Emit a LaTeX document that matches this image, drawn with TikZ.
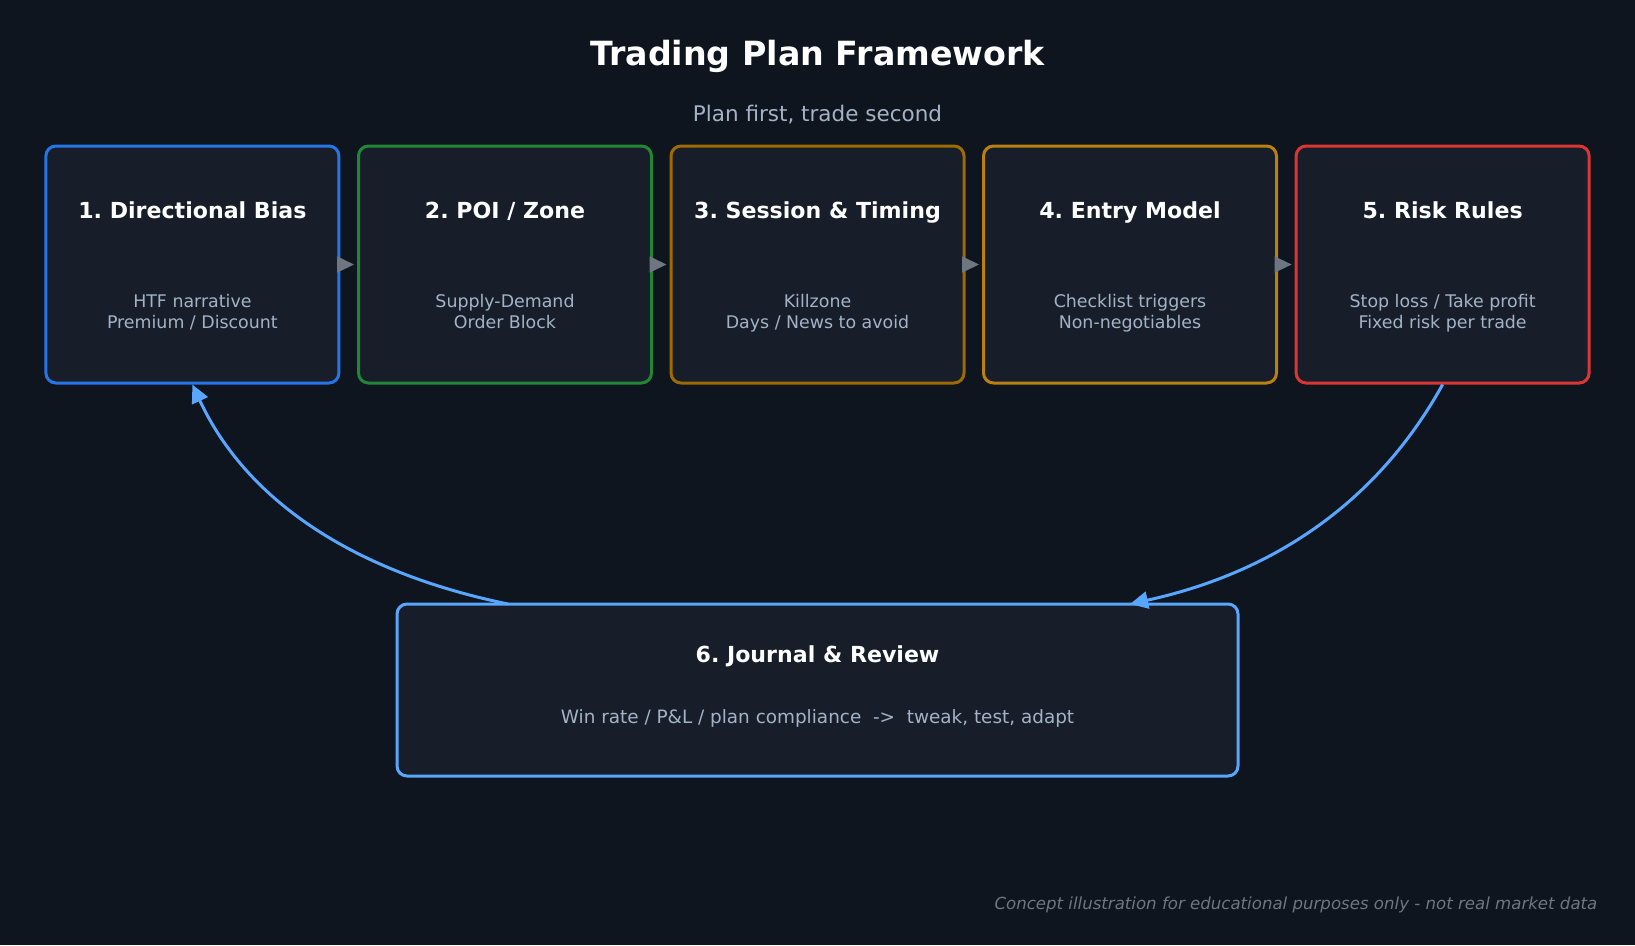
\documentclass[tikz,border=0pt]{standalone}
\usepackage{fontspec}
\setmainfont{DejaVu Sans}
\usetikzlibrary{arrows.meta}
\definecolor{bg}{HTML}{0F151E}
\definecolor{boxfill}{HTML}{171E2A}
\definecolor{cblue}{HTML}{2575E6}
\definecolor{cgreen}{HTML}{238636}
\definecolor{cbrown}{HTML}{9E6A03}
\definecolor{cgold}{HTML}{BB8014}
\definecolor{cred}{HTML}{DA3633}
\definecolor{clight}{HTML}{58A6FF}
\definecolor{subtxt}{HTML}{A3B3C6}
\definecolor{garrow}{HTML}{6E7681}
\definecolor{foot}{HTML}{6E7681}
\begin{document}
\frenchspacing
\begin{tikzpicture}[x=1pt,y=-1pt,
  stagebox/.style={draw, line width=3pt, rounded corners=10pt, fill=boxfill, minimum width=293pt, minimum height=237pt, inner sep=0pt},
  boxtitle/.style={anchor=base, text=white, font=\fontsize{22.1}{24}\selectfont\bfseries, inner sep=0pt},
  boxsub/.style={anchor=base, text=subtxt, font=\fontsize{17.4}{21}\selectfont, inner sep=0pt},
  grayarrow/.style={draw=garrow, line width=1.5pt, shorten >=3pt, -{Triangle[length=17pt,width=16pt]}},
  loopback/.style={draw=clight, line width=3pt, -{Triangle[length=18pt,width=17pt]}}]
\path[fill=bg] (0,0) rectangle (1635,945);
\node[anchor=base, text=white, font=\fontsize{33.3}{38}\selectfont\bfseries] (title) at (817.5,65) {Trading Plan Framework};
\node[anchor=base, text=subtxt, font=\fontsize{21.5}{24}\selectfont] (subtitle) at (817.5,121.5) {Plan first, trade second};

\node[stagebox, draw=cblue] (b1) at (192.4,264.5) {};
\node[stagebox, draw=cgreen] (b2) at (505,264.5) {};
\node[stagebox, draw=cbrown] (b3) at (817.5,264.5) {};
\node[stagebox, draw=cgold] (b4) at (1130,264.5) {};
\node[stagebox, draw=cred] (b5) at (1442.6,264.5) {};

\node[boxtitle] (t1) at (192.4,218.8) {1. Directional Bias};
\node[boxsub] (s1a) at (192.4,307.2) {HTF narrative};
\node[boxsub] (s1b) at (192.4,328.2) {Premium / Discount};
\node[boxtitle] (t2) at (505,218.8) {2. POI / Zone};
\node[boxsub] (s2a) at (505,307.2) {Supply-Demand};
\node[boxsub] (s2b) at (505,328.2) {Order Block};
\node[boxtitle] (t3) at (817.5,218.8) {3. Session \& Timing};
\node[boxsub] (s3a) at (817.5,307.2) {Killzone};
\node[boxsub] (s3b) at (817.5,328.2) {Days / News to avoid};
\node[boxtitle] (t4) at (1130,218.8) {4. Entry Model};
\node[boxsub] (s4a) at (1130,307.2) {Checklist triggers};
\node[boxsub] (s4b) at (1130,328.2) {Non-negotiables};
\node[boxtitle] (t5) at (1442.6,218.8) {5. Risk Rules};
\node[boxsub] (s5a) at (1442.6,307.2) {Stop loss / Take profit};
\node[boxsub] (s5b) at (1442.6,328.2) {Fixed risk per trade};

\draw[grayarrow] (b1.east) -- (b2.west);
\draw[grayarrow] (b2.east) -- (b3.west);
\draw[grayarrow] (b3.east) -- (b4.west);
\draw[grayarrow] (b4.east) -- (b5.west);

\node[stagebox, draw=clight, minimum width=841pt, minimum height=172pt] (b6) at (817.5,690) {};
\node[boxtitle] (t6) at (817.5,662) {6. Journal \& Review};
\node[boxsub, font=\fontsize{18.4}{22}\selectfont] (s6) at (817.5,723.5) {Win rate / P\&L / plan compliance \ ->\ \ tweak, test, adapt};

\coordinate (l6) at (508,604);
\coordinate (r6) at (1130,604);
\draw[loopback] (b5.south) .. controls (1380,497.7) and (1279,571.3) .. (r6);
\draw[loopback] (l6) .. controls (349.3,571.3) and (245,497.7) .. (b1.south);

\node[anchor=base east, text=foot, font=\fontsize{16.6}{20}\selectfont\itshape, inner sep=0pt] (foot) at (1597.5,909) {Concept illustration for educational purposes only - not real market data};
\end{tikzpicture}
\end{document}
